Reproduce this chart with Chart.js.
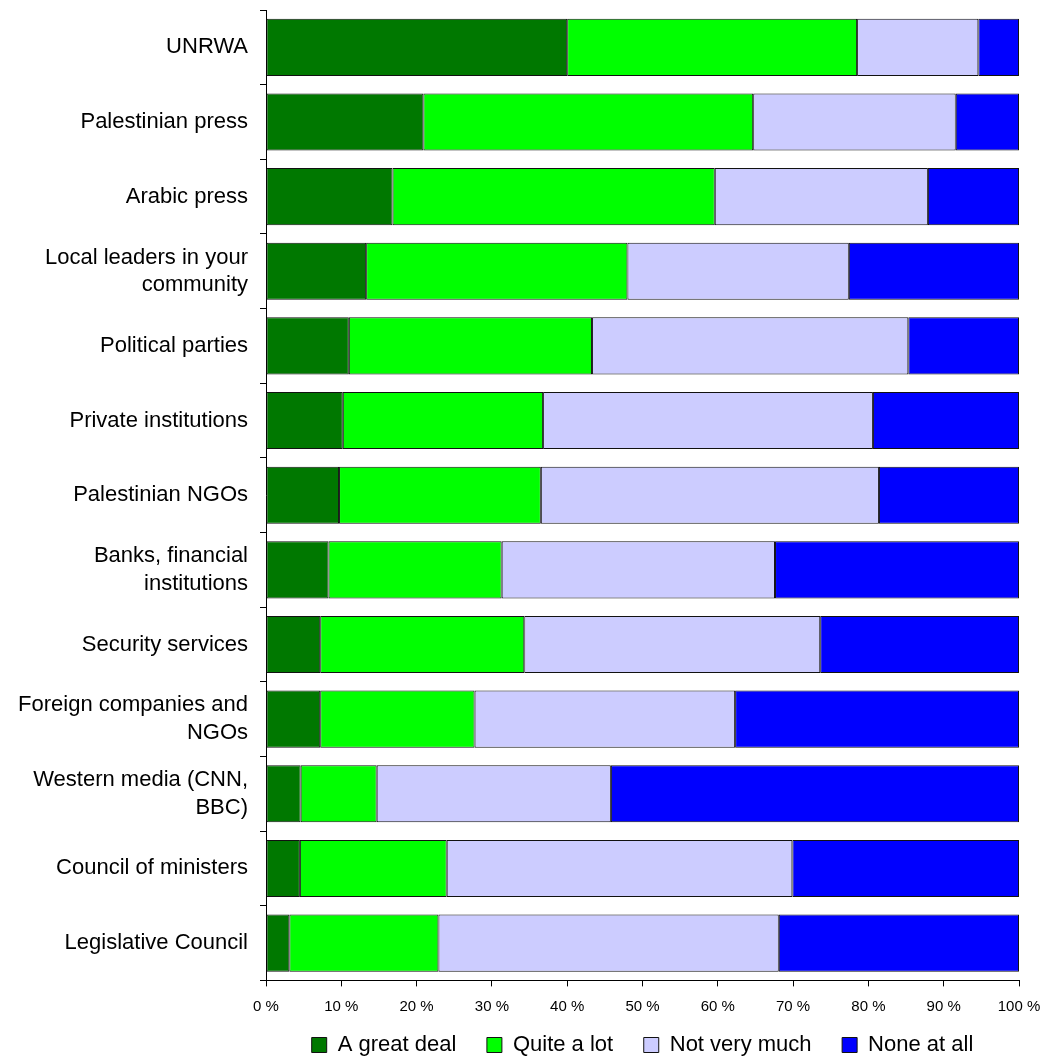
<!DOCTYPE html>
<html>
<head>
<meta charset="utf-8">
<script src="https://cdn.jsdelivr.net/npm/chart.js@4/dist/chart.umd.min.js"></script>
<style>
  html, body { margin: 0; padding: 0; background: #fff; }
  #wrap { width: 1043px; height: 1057px; }
</style>
</head>
<body>
<div id="wrap"><canvas id="chart-area"></canvas></div>
<script>
// categories, top to bottom
var categorias = [
  'UNRWA',
  'Palestinian press',
  'Arabic press',
  ['Local leaders in your', 'community'],
  'Political parties',
  'Private institutions',
  'Palestinian NGOs',
  ['Banks, financial', 'institutions'],
  'Security services',
  ['Foreign companies and', 'NGOs'],
  ['Western media (CNN,', 'BBC)'],
  'Council of ministers',
  'Legislative Council'
];

// percent values
var greatDeal  = [40.0, 20.9, 16.8, 13.3, 11.0, 10.2, 9.7, 8.3, 7.2, 7.2, 4.6, 4.5, 3.1];
var quiteALot  = [38.5, 43.8, 42.8, 34.7, 32.3, 26.6, 26.8, 23.0, 27.1, 20.5, 10.1, 19.5, 19.8];
var notVeryMuch = [16.1, 26.9, 28.3, 29.4, 42.0, 43.8, 44.9, 36.3, 39.3, 34.6, 31.1, 45.9, 45.2];
var noneAtAll  = [5.4, 8.4, 12.1, 22.6, 14.7, 19.4, 18.6, 32.4, 26.4, 37.7, 54.2, 30.1, 31.9];

var xTicks = [0, 10, 20, 30, 40, 50, 60, 70, 80, 90, 100];

function serie(label, data, color) {
  return {
    label: label,
    data: data,
    backgroundColor: color,
    borderColor: '#111',
    borderWidth: 1,
    borderSkipped: false,
    barPercentage: 0.765,
    categoryPercentage: 1.0
  };
}

var config = {
  type: 'bar',
  data: {
    labels: categorias,
    datasets: [
      serie('A great deal', greatDeal, '#007800'),
      serie('Quite a lot', quiteALot, '#00ff00'),
      serie('Not very much', notVeryMuch, '#ccccff'),
      serie('None at all', noneAtAll, '#0000ff')
    ]
  },
  options: {
    indexAxis: 'y',
    responsive: true,
    maintainAspectRatio: false,
    animation: false,
    layout: { padding: { left: 0, right: 24, top: 10, bottom: -9 } },
    scales: {
      x: {
        stacked: true,
        min: 0,
        max: 100,
        afterBuildTicks: function(scale) {
          scale.ticks = xTicks.map(function(v) { return { value: v }; });
        },
        afterFit: function(scale) {
          scale.height = 53.6;
          scale.paddingLeft = 0;
          scale.paddingRight = 0;
        },
        grid: {
          drawOnChartArea: false,
          tickLength: 6,
          color: '#000',
          lineWidth: 1
        },
        border: { color: '#000', width: 1 },
        ticks: {
          color: '#000',
          padding: 11,
          maxRotation: 0,
          font: { family: 'Liberation Sans', size: 15 },
          callback: function(v) { return v + ' %'; }
        }
      },
      y: {
        stacked: true,
        afterFit: function(scale) {
          scale.width = 266;
          scale.paddingTop = 0;
          scale.paddingBottom = 0;
        },
        grid: {
          offset: true,
          drawOnChartArea: false,
          tickLength: 6,
          color: '#000',
          lineWidth: 1
        },
        border: { color: '#000', width: 1 },
        ticks: {
          color: '#000',
          padding: 12,
          font: { family: 'Liberation Sans', size: 22, lineHeight: 1.25 }
        }
      }
    },
    plugins: {
      tooltip: { enabled: false },
      legend: {
        position: 'bottom',
        fullSize: false,
        labels: {
          color: '#000',
          boxWidth: 15,
          boxHeight: 15,
          padding: 0,
          font: { family: 'Liberation Sans', size: 22 },
          generateLabels: function(chart) {
            var items = Chart.defaults.plugins.legend.labels.generateLabels(chart);
            items.forEach(function(it, i) {
              it.strokeStyle = '#111';
              it.lineWidth = 1;
              if (i < items.length - 1) it.text = it.text + '     ';
            });
            return items;
          }
        }
      }
    }
  }
};

var ctx = document.getElementById('chart-area').getContext('2d');
window.myBar = new Chart(ctx, config);
</script>
</body>
</html>
